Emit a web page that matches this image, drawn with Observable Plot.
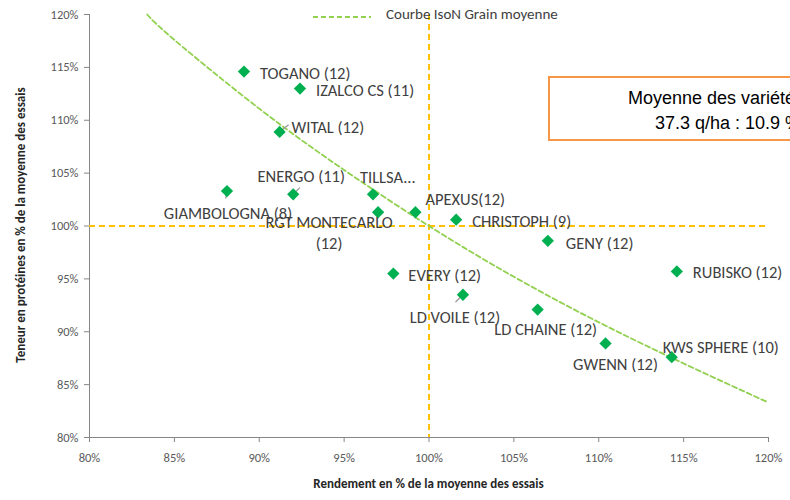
<!DOCTYPE html>
<html><head><meta charset="utf-8">
<script src="https://cdn.jsdelivr.net/npm/d3@7"></script>
<script src="https://cdn.jsdelivr.net/npm/@observablehq/plot@0.6"></script>
<style>
body{margin:0;background:#fff;}
#wrap{position:relative;width:790px;height:500px;overflow:hidden;}
</style></head>
<body><div id="wrap"></div>
<script>
// Data
const varieties = ["TOGANO (12)","IZALCO CS (11)","WITAL (12)","GIAMBOLOGNA (8)","ENERGO (11)","TILLSA...","RGT MONTECARLO\n(12)","APEXUS(12)","CHRISTOPH (9)","GENY (12)","RUBISKO (12)","EVERY (12)","LD VOILE (12)","LD CHAINE (12)","GWENN (12)","KWS SPHERE (10)"];
const rendement = [89.1, 92.4, 91.2, 88.1, 92.0, 96.7, 97.0, 99.2, 101.6, 107.0, 114.6, 97.9, 102.0, 106.4, 110.4, 114.3];
const proteines = [114.6, 113.0, 108.9, 103.3, 103.0, 103.0, 101.3, 101.3, 100.6, 98.6, 95.7, 95.5, 93.5, 92.1, 88.9, 87.6];
const curveX = [83.4, 85, 90, 95, 100, 105, 110, 115, 120];
const curveY = [120, 117.6, 111.1, 105.3, 100, 95.2, 90.9, 87.0, 83.3];
const ticks = [80, 85, 90, 95, 100, 105, 110, 115, 120];
const legendLabel = "Courbe IsoN Grain moyenne";
const boxLines = ["Moyenne des variétés", "37.3 q/ha : 10.9 %"];
const xTitle = "Rendement en % de la moyenne des essais";
const yTitle = "Teneur en protéines en % de la moyenne des essais";

// label placement (style): dx, dy, anchor
const labelOffsets = [
  [16,1,"start"],[16,1,"start"],[12,-6,"start"],[1,21,"middle"],[8,-19,"middle"],[-13,-18,"start"],
  [-49,19.5,"middle"],[10,-14,"start"],[16,0,"start"],[18,1,"start"],[16,0,"start"],[15,1,"start"],
  [-8,21,"middle"],[8,19,"middle"],[10,20,"middle"],[49,-11,"middle"]
];
// leader lines (style): index, rotate (deg clockwise from up), length
const leaders = [[2,52,11],[3,190,7],[4,45,9],[12,225,10]];

const pts = varieties.map((v,i)=>({name:v, x:rendement[i], y:proteines[i]}));
const curve = curveX.map((x,i)=>({x, y:curveY[i]}));
const font = "Carlito, 'Liberation Sans', sans-serif";
const pct = d=>d+"%";

const labelMarks = pts.map((p,i)=>Plot.text([p], {x:"x", y:"y", text:"name", dx:labelOffsets[i][0], dy:labelOffsets[i][1], textAnchor:labelOffsets[i][2], fontSize:16.5, fill:"#404040", lineHeight:1.3}));
const lineShape = {draw(ctx, l){ctx.moveTo(0,0); ctx.lineTo(0,-l);}};
const leaderMarks = leaders.map(([i,rot,len])=>Plot.vector([pts[i]], {x:"x", y:"y", rotate:rot, length:len, anchor:"start", shape:lineShape, stroke:"#9a9a9a", strokeWidth:1.3}));

const chart = Plot.plot({
  width: 790, height: 500,
  marginLeft: 89, marginRight: 22, marginTop: 14, marginBottom: 63,
  style: {fontFamily: font, overflow: "visible", background: "#fff"},
  x: {domain:[80,120]},
  y: {domain:[80,120]},
  marks: [
    Plot.axisX({ticks, tickFormat:pct, tickSize:5, tickPadding:11, fontSize:12.5, color:"#595959", stroke:"#868686", label:null}),
    Plot.axisY({ticks, tickFormat:pct, tickSize:5, tickPadding:6, fontSize:12.5, color:"#595959", stroke:"#868686", label:null}),
    Plot.ruleX([80], {stroke:"#868686"}),
    Plot.ruleY([80], {stroke:"#868686"}),
    Plot.ruleX([100], {stroke:"#FFC000", strokeWidth:2, strokeDasharray:"6,4"}),
    Plot.ruleY([100], {stroke:"#FFC000", strokeWidth:2, strokeDasharray:"6,4"}),
    Plot.line(curve, {x:"x", y:"y", curve:"natural", stroke:"#92D050", strokeWidth:1.8, strokeDasharray:"5,3"}),
    ...leaderMarks,
    Plot.dot(pts, {x:"x", y:"y", symbol:"square", rotate:45, r:4.9, fill:"#00B050", stroke:"none"}),
    ...labelMarks
  ]
});
const wrap = document.getElementById("wrap");
wrap.appendChild(chart);

function addDiv(html, css){const d=document.createElement("div");d.innerHTML=html;d.style.cssText="position:absolute;"+css;wrap.appendChild(d);return d;}
addDiv(`<svg width="60" height="6"><line x1="0" y1="3" x2="58" y2="3" stroke="#92D050" stroke-width="2" stroke-dasharray="5,3"/></svg>`, "left:313px;top:14px;line-height:0;");
addDiv(legendLabel, `left:386px;top:5px;font-family:${font};font-size:15px;color:#404040;white-space:nowrap;`);
addDiv(`<div style="position:relative;left:-2px">${boxLines[0]}</div><div style="position:relative;left:10px">${boxLines[1]}</div>`, "left:548px;top:76px;width:340px;height:65px;border:2px solid #F79646;box-sizing:border-box;background:#fff;font-family:'Liberation Sans',Arial,sans-serif;font-size:18px;color:#000;text-align:center;line-height:25px;padding-top:8px;white-space:nowrap;");
addDiv(xTitle, `left:0;width:857px;top:476px;text-align:center;font-family:${font};font-weight:bold;font-size:13px;color:#262626;`);
addDiv(yTitle, `left:20px;top:225px;transform:translate(-50%,-50%) rotate(-90deg);font-family:${font};font-weight:bold;font-size:13px;color:#262626;white-space:nowrap;`);
</script></body></html>
